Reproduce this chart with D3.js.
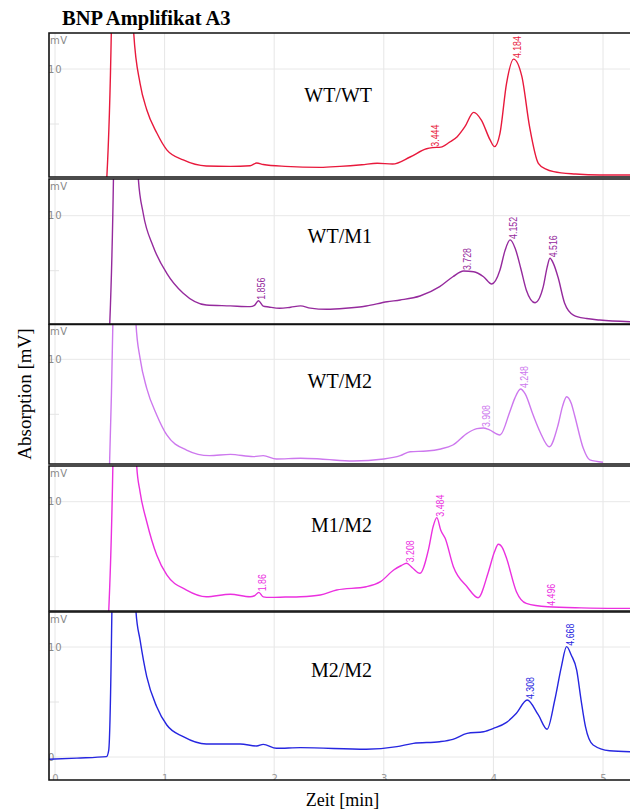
<!DOCTYPE html>
<html>
<head>
<meta charset="utf-8">
<script src="https://cdn.jsdelivr.net/npm/d3@7"></script>
<style>
  html, body { margin: 0; padding: 0; background: #fff; }
  svg { display: block; }
</style>
</head>
<body>
<svg id="chart" width="630" height="812"></svg>
<script>
// ---- data -----------------------------------------------------------
const timeTicks = [0, 1, 2, 3, 4, 5];            // min
const samples = ["WT/WT", "WT/M1", "WT/M2", "M1/M2", "M2/M2"];

// WT/WT trace (time in min, signal in mV)
const tWTWT = [0.46, 0.515, 0.56, 0.62, 0.66, 0.70, 0.718, 0.776, 0.837, 0.928, 1.02, 1.17, 1.38, 1.6, 1.78, 1.84, 1.90, 2.1, 2.42, 2.6, 2.8, 2.94, 3.08, 3.24, 3.39, 3.444, 3.52, 3.6, 3.67, 3.74, 3.82, 3.89, 3.97, 4.01, 4.06, 4.12, 4.184, 4.26, 4.33, 4.41, 4.48, 4.55, 4.75, 4.97, 5.25];
const mvWTWT = [-2, 14, 60, 75, 50, 20, 13.3, 8.7, 6.3, 4.2, 2.65, 1.73, 1.18, 1.15, 1.21, 1.45, 1.32, 1.15, 1.06, 1.15, 1.3, 1.43, 1.36, 2.0, 2.75, 2.85, 2.9, 3.35, 3.85, 4.76, 6.06, 5.36, 3.55, 2.94, 4.15, 8.7, 10.9, 9.3, 4.76, 1.43, 0.9, 0.67, 0.45, 0.36, 0.36];
const peaksWTWT = [3.444, 4.184];

// WT/M1 trace
const tWTM1 = [0.49, 0.535, 0.58, 0.64, 0.70, 0.74, 0.76, 0.805, 0.896, 1.02, 1.17, 1.38, 1.6, 1.78, 1.82, 1.856, 1.9, 1.95, 2.05, 2.15, 2.24, 2.33, 2.48, 2.65, 2.84, 3.03, 3.15, 3.33, 3.51, 3.63, 3.728, 3.82, 3.91, 3.985, 4.06, 4.105, 4.152, 4.20, 4.25, 4.30, 4.38, 4.455, 4.49, 4.516, 4.55, 4.59, 4.65, 4.73, 4.85, 4.97, 5.25];
const mvWTM1 = [-2, 14.5, 60, 75, 40, 18, 13.4, 10.2, 7.2, 4.76, 2.95, 1.88, 1.8, 1.73, 1.85, 2.27, 1.78, 1.7, 1.58, 1.68, 1.8, 1.6, 1.49, 1.58, 1.79, 2.18, 2.34, 2.7, 3.55, 4.45, 4.97, 4.9, 4.45, 3.79, 5.06, 6.8, 7.8, 7.0, 5.2, 3.25, 2.09, 3.55, 5.3, 6.13, 5.6, 4.4, 2.04, 0.97, 0.65, 0.52, 0.36];
const peaksWTM1 = [1.856, 3.728, 4.152, 4.516];

// WT/M2 trace
const tWTM2 = [0.49, 0.53, 0.58, 0.64, 0.70, 0.72, 0.739, 0.776, 0.837, 0.928, 1.02, 1.2, 1.41, 1.6, 1.81, 1.9, 2.02, 2.24, 2.42, 2.72, 3.0, 3.15, 3.24, 3.39, 3.52, 3.63, 3.76, 3.85, 3.908, 3.96, 4.06, 4.15, 4.195, 4.248, 4.29, 4.36, 4.425, 4.51, 4.59, 4.63, 4.668, 4.71, 4.74, 4.82, 4.88, 5.0];
const mvWTM2 = [-2, 14.5, 60, 75, 40, 18, 13.2, 10.1, 7.36, 4.94, 3.12, 1.75, 1.24, 1.36, 1.15, 1.24, 0.94, 1.0, 0.94, 0.75, 0.94, 1.24, 1.6, 1.66, 1.85, 2.21, 3.27, 3.7, 3.75, 3.6, 3.12, 5.24, 6.45, 7.3, 6.85, 5.0, 3.42, 2.05, 4.03, 5.7, 6.6, 6.0, 4.94, 1.91, 0.85, 0.64];
const peaksWTM2 = [3.908, 4.248];

// M1/M2 trace
const tM1M2 = [0.48, 0.53, 0.58, 0.64, 0.70, 0.725, 0.745, 0.776, 0.837, 0.928, 1.02, 1.2, 1.38, 1.6, 1.78, 1.82, 1.86, 1.9, 1.96, 2.1, 2.24, 2.42, 2.57, 2.84, 2.97, 3.09, 3.16, 3.208, 3.26, 3.33, 3.41, 3.45, 3.484, 3.52, 3.56, 3.635, 3.76, 3.86, 3.955, 4.01, 4.045, 4.085, 4.12, 4.21, 4.30, 4.496, 4.8, 5.25];
const mvM1M2 = [-2, 14.5, 60, 75, 40, 18, 13.3, 10.9, 8.18, 5.15, 3.34, 1.97, 1.36, 1.58, 1.36, 1.45, 1.76, 1.35, 1.3, 1.33, 1.36, 1.52, 1.97, 2.27, 2.73, 3.79, 4.2, 4.4, 4.0, 3.49, 5.76, 7.73, 8.55, 7.4, 6.67, 4.09, 2.27, 1.27, 3.64, 5.45, 6.13, 5.76, 4.85, 1.82, 0.76, 0.45, 0.35, 0.3];
const peaksM1M2 = [1.86, 3.208, 3.484, 4.496];

// M2/M2 trace
const tM2M2 = [-0.06, 0.2, 0.47, 0.49, 0.52, 0.56, 0.62, 0.68, 0.72, 0.739, 0.776, 0.837, 0.928, 1.02, 1.17, 1.38, 1.69, 1.84, 1.90, 2.02, 2.24, 2.84, 3.12, 3.27, 3.51, 3.63, 3.76, 3.91, 4.0, 4.12, 4.21, 4.308, 4.41, 4.49, 4.56, 4.62, 4.668, 4.71, 4.76, 4.80, 4.84, 4.91, 5.06, 5.25];
const mvM2M2 = [-0.2, -0.1, 0.03, 0.6, 14, 60, 75, 40, 18, 13.2, 10.64, 7.3, 4.57, 2.91, 1.85, 1.18, 1.18, 1.0, 1.15, 0.79, 0.85, 0.7, 0.94, 1.24, 1.39, 1.6, 2.15, 2.3, 2.6, 3.15, 3.97, 5.18, 3.82, 2.52, 5.18, 8.2, 10.03, 9.27, 7.9, 5.18, 2.76, 1.09, 0.57, 0.48];
const peaksM2M2 = [4.308, 4.668];

const tSeries = [tWTWT, tWTM1, tWTM2, tM1M2, tM2M2];
const mvSeries = [mvWTWT, mvWTM1, mvWTM2, mvM1M2, mvM2M2];
const peakSeries = [peaksWTWT, peaksWTM1, peaksWTM2, peaksM1M2, peaksM2M2];

// ---- layout & style -------------------------------------------------
const colors = ["#e8193c", "#952a9d", "#cd78ee", "#eb30df", "#2626e0"];
// panel frames (top, bottom) and the pixel row of the 10 mV level
const panels = [
  { top: 33,  bottom: 177, y10: 69 },
  { top: 179, bottom: 324, y10: 215.7 },
  { top: 324.5, bottom: 464, y10: 359.3 },
  { top: 466, bottom: 611, y10: 501.7 },
  { top: 612, bottom: 780, y10: 647 }
];
const plotLeft = 49, plotRight = 630;
const labelRightX = 372;
const labelBaselines = [101.7, 242.7, 387.7, 532.3, 677];

const svg = d3.select("#chart");
const x = d3.scaleLinear().domain([0, 5]).range([55, 603]);
const defs = svg.append("defs");

// title
svg.append("text")
  .attr("x", 62).attr("y", 25)
  .attr("font-family", "'Liberation Serif', 'Times New Roman', serif")
  .attr("font-weight", "bold").attr("font-size", 20.5)
  .attr("fill", "#000")
  .text("BNP Amplifikat A3");

panels.forEach((p, i) => {
  const y = d3.scaleLinear().domain([0, 10]).range([p.y10 + 110, p.y10]);
  const g = svg.append("g");

  defs.append("clipPath").attr("id", "clip" + i)
    .append("rect")
    .attr("x", plotLeft).attr("y", p.top)
    .attr("width", plotRight - plotLeft).attr("height", p.bottom - p.top);

  const inner = g.append("g").attr("clip-path", `url(#clip${i})`);

  // vertical grid at full minutes
  inner.selectAll("line.vg").data(timeTicks).join("line")
    .attr("x1", d => x(d)).attr("x2", d => x(d))
    .attr("y1", p.top).attr("y2", p.bottom)
    .attr("stroke", "#e6e6e6").attr("stroke-width", 1);

  // horizontal grid: 10 mV (and 0 mV in the last panel)
  const hLevels = i === panels.length - 1 ? [0, 10] : [10];
  inner.selectAll("line.hg").data(hLevels).join("line")
    .attr("x1", plotLeft).attr("x2", plotRight)
    .attr("y1", d => y(d)).attr("y2", d => y(d))
    .attr("stroke", "#e8e8e8").attr("stroke-width", 1);
  // short minor tick at 5 mV
  inner.append("line")
    .attr("x1", plotLeft).attr("x2", plotLeft + 10)
    .attr("y1", y(5)).attr("y2", y(5))
    .attr("stroke", "#e4e4e4").attr("stroke-width", 1);

  // axis captions inside the frame
  inner.append("text")
    .attr("x", plotLeft + 1).attr("y", p.top + 10.5)
    .attr("font-family", "'DejaVu Sans', sans-serif").attr("font-size", 10)
    .attr("letter-spacing", 0.6)
    .attr("fill", "#8a8a8a").text("mV");
  hLevels.forEach(v => {
    inner.append("text")
      .attr("x", plotLeft - 1).attr("y", y(v))
      .attr("dy", "0.35em")
      .attr("font-family", "'DejaVu Sans', sans-serif").attr("font-size", 10)
      .attr("letter-spacing", 0.8)
      .attr("fill", "#8a8a8a").text(v);
  });

  // x tick labels in the last panel, sitting on the lower frame line
  if (i === panels.length - 1) {
    const axis = d3.axisBottom(x).tickValues(timeTicks).tickFormat(d3.format("d"))
      .tickSize(0).tickPadding(0);
    const ax = inner.append("g").attr("transform", `translate(0,${p.bottom - 5})`).call(axis);
    ax.select(".domain").remove();
    ax.selectAll("text")
      .attr("font-family", "'DejaVu Sans', sans-serif").attr("font-size", 10)
      .attr("fill", "#9a9a9a");
  }

  // trace
  const ts = tSeries[i], vs = mvSeries[i];
  const pts = ts.map((t, k) => [t, vs[k]]);
  inner.append("path")
    .datum(pts)
    .attr("fill", "none")
    .attr("stroke", colors[i]).attr("stroke-width", 1.4)
    .attr("stroke-linejoin", "round")
    .attr("d", d3.line().x(d => x(d[0])).y(d => y(d[1])).curve(d3.curveMonotoneX));

  // retention time annotations (condensed, reading upwards from the apex)
  peakSeries[i].forEach(t => {
    const k = ts.indexOf(t);
    const px = x(t), py = y(vs[k]);
    inner.append("text")
      .attr("transform", `translate(${px + 7},${py - 1}) rotate(-90) scale(0.8,1)`)
      .attr("font-family", "'Liberation Sans', Arial, sans-serif")
      .attr("font-size", 11)
      .attr("fill", colors[i])
      .text(String(t));
  });

  // sample name
  g.append("text")
    .attr("x", labelRightX).attr("y", labelBaselines[i])
    .attr("text-anchor", "end")
    .attr("font-family", "'Liberation Serif', 'Times New Roman', serif")
    .attr("font-size", 20).attr("fill", "#000")
    .text(samples[i]);

  // frame: top, bottom, left
  g.append("path")
    .attr("d", `M${plotRight},${p.top}H${plotLeft}V${p.bottom}H${plotRight}`)
    .attr("fill", "none").attr("stroke", "#111").attr("stroke-width", 1.6);
});

// axis titles
svg.append("text")
  .attr("transform", "translate(31,394) rotate(-90)")
  .attr("text-anchor", "middle")
  .attr("font-family", "'Liberation Serif', 'Times New Roman', serif")
  .attr("font-size", 19).attr("fill", "#000")
  .text("Absorption [mV]");

svg.append("text")
  .attr("x", 342.5).attr("y", 806)
  .attr("text-anchor", "middle")
  .attr("font-family", "'Liberation Serif', 'Times New Roman', serif")
  .attr("font-size", 18).attr("fill", "#000")
  .text("Zeit [min]");
</script>
</body>
</html>
